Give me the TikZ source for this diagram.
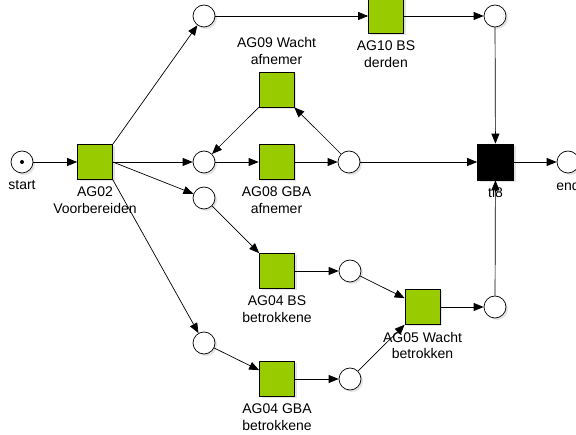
\documentclass[tikz,border=0pt]{standalone}
\usepackage{fontspec}
\setmainfont{Liberation Sans}
\usetikzlibrary{arrows.meta,shadows}
\definecolor{transgreen}{RGB}{153,204,0}
\begin{document}
\begin{tikzpicture}[x=1pt,y=-1pt,
  every node/.style={font=\fontsize{14}{16.5}\selectfont},
  softshadow/.style={drop shadow={shadow xshift=2pt,shadow yshift=-2pt,fill=black!22}},
  place/.style={circle,draw,fill=white,minimum size=22pt,inner sep=0pt,line width=0.7pt,softshadow},
  trans/.style={rectangle,draw,fill=transgreen,minimum size=35pt,inner sep=0pt,line width=0.7pt,softshadow},
  blacktrans/.style={rectangle,draw,fill=black,minimum size=36pt,inner sep=0pt,line width=0.7pt,softshadow},
  lbl/.style={align=center,inner sep=2pt},
  every label/.style={lbl},
  label distance=5pt,
  arc/.style={draw,line width=0.7pt,-{Triangle[length=10pt,width=8pt]}}
]
\useasboundingbox (0,0) rectangle (576,435);

% places
\node[place,label=below:start] (start) at (22,162) {};
\fill (start.center) circle (2pt);
\node[place] (ptop)  at (204,16) {};
\node[place] (ptopr) at (495,16) {};
\node[place] (p1)    at (204,162) {};
\node[place] (p2)    at (349,162) {};
\node[place] (p3)    at (204,198) {};
\node[place] (p4)    at (204,343) {};
\node[place] (p5)    at (350,271) {};
\node[place] (p6)    at (350,379) {};
\node[place] (p7)    at (495,307) {};
\node[place,label=below:end] (end) at (568,162) {};

% transitions
\node[trans,label={below:AG02\\Voorbereiden}] (ag02) at (95,162) {};
\node[trans,label={below:AG10 BS\\derden}] (ag10) at (386,16) {};
\node[trans,label={above:AG09 Wacht\\afnemer}] (ag09) at (276.5,89.5) {};
\node[trans,label={below:AG08 GBA\\afnemer}] (ag08) at (276.5,162) {};
\node[trans,label={below:AG04 BS\\betrokkene}] (ag04bs) at (277,271) {};
\node[trans,label={below:AG05 Wacht\\betrokken}] (ag05) at (422.5,307) {};
\node[trans,label={below:AG04 GBA\\betrokkene}] (ag04gba) at (277,379) {};
\node[blacktrans,label=below:tl8] (tl8) at (495.5,162) {};

% arcs
\draw[arc] (start) -- (ag02);
\draw[arc] (ag02.north east) -- (ptop);
\draw[arc] (ag02.east) -- (p1);
\draw[arc] (ag02.east) -- (p3);
\draw[arc] (ag02.south east) -- (p4);
\draw[arc] (ptop) -- (ag10);
\draw[arc] (ag10) -- (ptopr);
\draw[arc] (ptopr) -- (tl8);
\draw[arc] (p1) -- (ag08);
\draw[arc] (ag08) -- (p2);
\draw[arc] (p2) -- (ag09);
\draw[arc] (ag09) -- (p1);
\draw[arc] (p2) -- (tl8);
\draw[arc] (p3) -- (ag04bs);
\draw[arc] (ag04bs) -- (p5);
\draw[arc] (p5) -- (ag05);
\draw[arc] (p4) -- (ag04gba);
\draw[arc] (ag04gba) -- (p6);
\draw[arc] (p6) -- (ag05);
\draw[arc] (ag05) -- (p7);
\draw[arc] (p7) -- (tl8);
\draw[arc] (tl8) -- (end);
\end{tikzpicture}
\end{document}
